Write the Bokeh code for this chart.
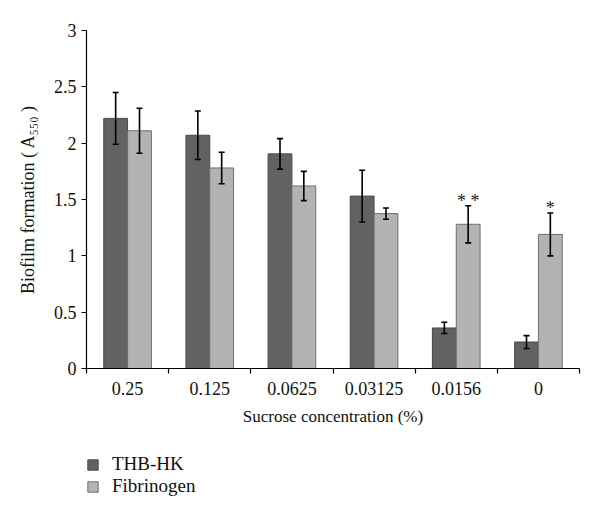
from bokeh.plotting import figure
from bokeh.layouts import column
from bokeh.models import (FixedTicker, Whisker, ColumnDataSource, Legend, LegendItem,
                          Range1d)
from bokeh.core.properties import value
from bokeh.embed import file_html
from bokeh.resources import INLINE

categories = ["0.25", "0.125", "0.0625", "0.03125", "0.0156", "0"]
thb_hk = [2.22, 2.07, 1.905, 1.53, 0.36, 0.235]
thb_hk_err = [0.23, 0.215, 0.135, 0.23, 0.05, 0.057]
fibrinogen = [2.11, 1.78, 1.62, 1.375, 1.28, 1.19]
fibrinogen_err = [0.20, 0.14, 0.13, 0.05, 0.165, 0.19]
significance = ["", "", "", "", "* *", "*"]
series_names = ["THB-HK", "Fibrinogen"]
y_ticks = [0, 0.5, 1, 1.5, 2, 2.5, 3]
y_tick_labels = ["0", "0.5", "1", "1.5", "2", "2.5", "3"]

FONT = "Liberation Serif"
DARK = "#626262"
DARK_LINE = "#4a4a4a"
LIGHT = "#b3b3b3"
LIGHT_LINE = "#6f6f6f"

n = len(categories)
centers = [i + 0.5 for i in range(n)]
bw = 0.29
x_dark = [i + 0.5 - bw / 2 for i in range(n)]
x_light = [i + 0.5 + bw / 2 for i in range(n)]

p = figure(width=584, height=440, output_backend="svg", toolbar_location=None,
           x_range=Range1d(0, n), y_range=Range1d(0, 3),
           min_border_left=86, min_border_top=30, min_border_bottom=72, min_border_right=5)
p.outline_line_color = None
p.xgrid.visible = False
p.ygrid.visible = False

src_d = ColumnDataSource(dict(x=x_dark, top=thb_hk,
                              upper=[v + e for v, e in zip(thb_hk, thb_hk_err)],
                              lower=[v - e for v, e in zip(thb_hk, thb_hk_err)]))
src_l = ColumnDataSource(dict(x=x_light, top=fibrinogen,
                              upper=[v + e for v, e in zip(fibrinogen, fibrinogen_err)],
                              lower=[v - e for v, e in zip(fibrinogen, fibrinogen_err)],
                              sig=significance))

p.vbar(x="x", top="top", bottom=0, width=bw, source=src_d,
       fill_color=DARK, line_color=DARK_LINE, line_width=1)
p.vbar(x="x", top="top", bottom=0, width=bw, source=src_l,
       fill_color=LIGHT, line_color=LIGHT_LINE, line_width=1)

for src in (src_d, src_l):
    w = Whisker(source=src, base="x", upper="upper", lower="lower",
                line_color="black", line_width=1.6, level="overlay")
    w.upper_head.size = 6
    w.lower_head.size = 6
    w.upper_head.line_width = 1.6
    w.lower_head.line_width = 1.6
    p.add_layout(w)

p.text(x="x", y="upper", text="sig", source=src_l, text_align="center",
       text_baseline="alphabetic", y_offset=-5, text_font=value(FONT),
       text_font_size="18px", text_color="#222222")

# x axis: labels at category centres, ticks at category boundaries
p.xaxis.ticker = FixedTicker(ticks=centers, minor_ticks=list(range(n + 1)))
p.xaxis.major_label_overrides = {c: lab for c, lab in zip(centers, categories)}
p.xaxis.major_tick_line_color = None
p.xaxis.minor_tick_out = 5
p.xaxis.minor_tick_in = 0
p.xaxis.minor_tick_line_color = "black"
p.xaxis.axis_label = "Sucrose concentration (%)"

p.yaxis.ticker = FixedTicker(ticks=y_ticks)
p.yaxis.major_label_overrides = {t: lab for t, lab in zip(y_ticks, y_tick_labels)}
p.yaxis.minor_tick_line_color = None
p.yaxis.major_tick_out = 5
p.yaxis.major_tick_in = 0
p.yaxis.axis_label = "Biofilm formation ( A\u2085\u2085\u2080 )"

for ax in (p.xaxis, p.yaxis):
    ax.axis_line_color = "black"
    ax.axis_line_width = 1.2
    ax.major_tick_line_width = 1.2
    ax.minor_tick_line_width = 1.2
    ax.major_label_text_font = FONT
    ax.major_label_text_font_size = "18px"
    ax.major_label_text_color = "#111111"
    ax.axis_label_text_font = FONT
    ax.axis_label_text_font_size = "17px"
    ax.axis_label_text_font_style = "normal"
    ax.axis_label_text_color = "#111111"

p.yaxis.axis_label_text_font_size = "18px"
p.xaxis.major_label_standoff = 7
p.xaxis.axis_label_standoff = 9
p.yaxis.major_label_standoff = 5
p.yaxis.axis_label_standoff = 13

# legend panel below the chart (bars here lie outside the visible y range)
pl = figure(width=584, height=64, output_backend="svg", toolbar_location=None,
            x_range=Range1d(0, n), y_range=Range1d(10, 11),
            min_border_left=0, min_border_right=0, min_border_top=0, min_border_bottom=0)
pl.axis.visible = False
pl.xgrid.visible = False
pl.ygrid.visible = False
pl.outline_line_color = None
ld = pl.vbar(x=x_dark, top=thb_hk, width=bw, fill_color=DARK, line_color=DARK_LINE)
ll = pl.vbar(x=x_light, top=fibrinogen, width=bw, fill_color=LIGHT, line_color=LIGHT_LINE)

legend = Legend(items=[LegendItem(label=series_names[0], renderers=[ld]),
                       LegendItem(label=series_names[1], renderers=[ll])],
                location=(0, 7))
legend.padding = 0
legend.margin = 0
legend.border_line_color = None
legend.background_fill_alpha = 0
legend.glyph_width = 13
legend.glyph_height = 13
legend.label_height = 14
legend.label_standoff = 13
legend.spacing = 0
legend.label_text_font = FONT
legend.label_text_font_size = "19px"
legend.label_text_color = "#111111"
pl.add_layout(legend, "center")

layout = column(p, pl, spacing=0)
open("out.html", "w").write(file_html(layout, INLINE))
